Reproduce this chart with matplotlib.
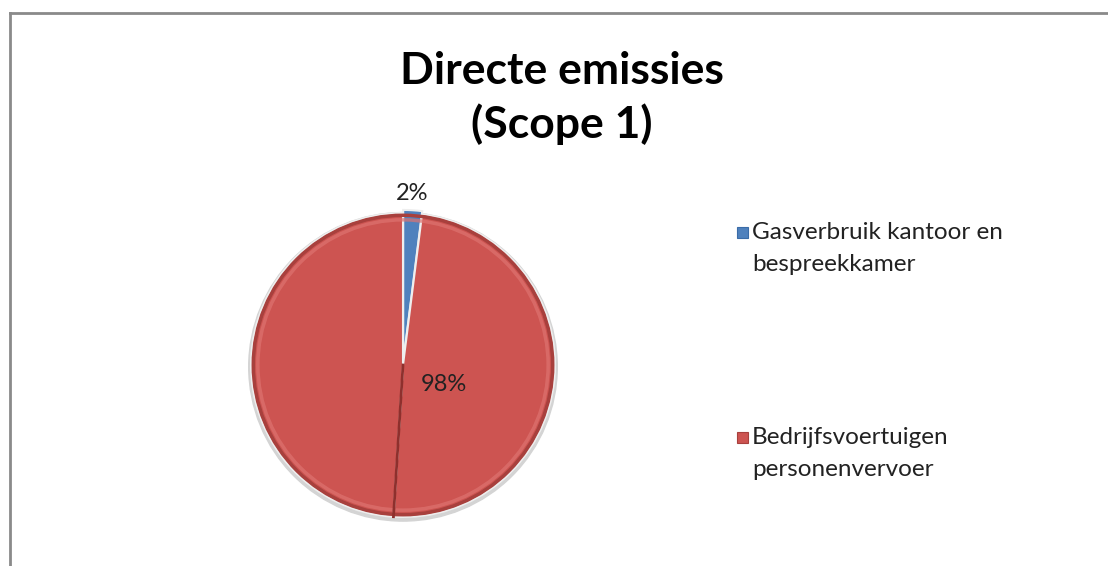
import numpy as np
import matplotlib
matplotlib.use("Agg")
import matplotlib.pyplot as plt
from matplotlib.patches import Rectangle, Circle

plt.rcParams['font.family'] = ['Lato', 'DejaVu Sans']

# data
categories = ["Gasverbruik kantoor en\nbespreekkamer",
              "Bedrijfsvoertuigen\npersonenvervoer"]
shares = [2, 98]
pct_labels = ["2%", "98%"]
colors = ["#4F81BD", "#CD5451"]
edge_colors = ["#3A6CA8", "#A8403D"]

W, H = 1108, 566
fig = plt.figure(figsize=(W / 100, H / 100), dpi=100)
fig.patch.set_facecolor("white")

# chart frame (only top and left edges visible)
fig.add_artist(plt.Line2D([10 / W, 10 / W], [0, 1 - 13 / H], transform=fig.transFigure,
                          color="#8a8a8a", lw=2))
fig.add_artist(plt.Line2D([10 / W, 1], [1 - 13 / H, 1 - 13 / H], transform=fig.transFigure,
                          color="#8a8a8a", lw=2))

# pie axes: centre (403, 365) px, radius 152 px
cx, cy, r_px = 403, 365, 152
half = 170
ax = fig.add_axes([(cx - half) / W, (H - cy - half) / H, 2 * half / W, 2 * half / H])

# soft shadow ring
ax.add_patch(Circle((0.0, -0.012), 1.015, color="#d4d4d4", zorder=0))

# Excel splits the large slice in two at its middle, giving a seam
vals = [shares[0], shares[1] / 2, shares[1] / 2]
cols = [colors[0], colors[1], colors[1]]
wedges, _ = ax.pie(vals, colors=cols, startangle=90, counterclock=False,
                   explode=[0.02, 0, 0], radius=1.0,
                   wedgeprops=dict(linewidth=1.5, edgecolor="#eeeeee"))
for w in wedges:
    w.set_zorder(2)

lim = half / r_px
ax.set_xlim(-lim, lim)
ax.set_ylim(-lim, lim)
ax.set_aspect("equal")
ax.axis("off")

# bevel rim and seam
ax.add_patch(Circle((0, 0), 0.985, fill=False, ec="#A8403D", lw=2.5, zorder=3))
ax.add_patch(Circle((0, 0), 0.955, fill=False, ec="#DE7370", lw=2.5, alpha=0.7, zorder=3))
seam = np.deg2rad(90 - 360 * (shares[0] + shares[1] / 2) / sum(shares))
ax.plot([0, np.cos(seam)], [0, np.sin(seam)], color="#8E302D", lw=2, zorder=4)

# percentage labels
ax.text(0.06, 1.13, pct_labels[0], ha="center", va="center", fontsize=17, color="#222222")
ax.text(0.27, -0.13, pct_labels[1], ha="center", va="center", fontsize=17, color="#222222")

# title
fig.text(562 / W, 1 - 98 / H, "Directe emissies\n(Scope 1)", ha="center", va="center",
         fontsize=32, fontweight="bold", linespacing=1.38, color="black")

# legend
leg_y = [232, 437]
for cat, col, ec, y in zip(categories, colors, edge_colors, leg_y):
    fig.add_artist(Rectangle((737 / W, 1 - (y + 6) / H), 11 / W, 11 / H,
                             transform=fig.transFigure, fc=col, ec=ec, lw=0.8))
    fig.text(752 / W, 1 - (y - 10) / H, cat, ha="left", va="top",
             fontsize=17.5, linespacing=1.62, color="#222222")

fig.savefig("out.png", dpi=100)
